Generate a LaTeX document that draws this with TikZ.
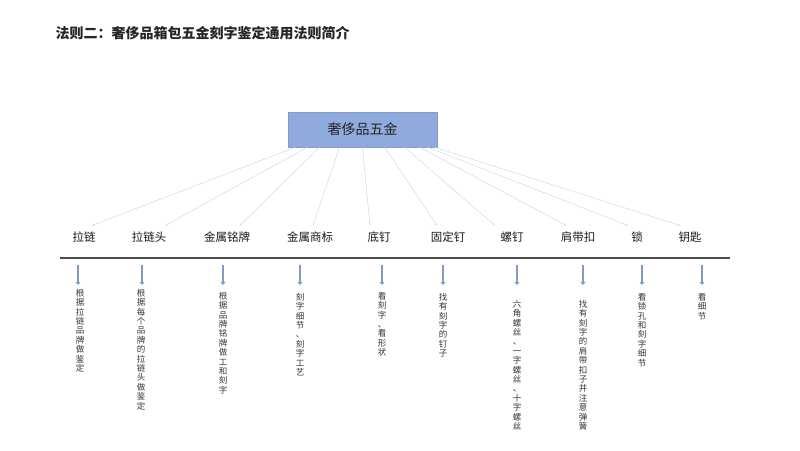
\documentclass[tikz,border=0pt]{standalone}
\usepackage{fontspec}
\setmainfont{Noto Sans CJK SC}
\usetikzlibrary{positioning,arrows.meta}
\definecolor{hubblue}{HTML}{8FAADC}
\definecolor{arrowblue}{HTML}{7F9CC9}
\definecolor{spoke}{HTML}{C9DCE6}

\begin{document}
\begin{tikzpicture}[x=1pt,y=-1pt,
        hub/.style={fill=hubblue,draw=hubblue!92!black,minimum width=149pt,minimum height=35pt,
            font=\fontsize{14}{16}\selectfont,text=black!85},
        part/.style={font=\fontsize{11.5}{13}\selectfont,text=black!90,inner sep=1pt},
        spokeline/.style={draw=spoke,line width=0.5pt,-{Stealth[length=2.5pt,width=2pt]}},
        down/.style={draw=arrowblue,line width=2pt,-{Triangle[length=3pt,width=5pt]}},
        rule/.style={draw=black!70,line width=1.6pt},
        note/.style={anchor=north,align=center,inner sep=0pt,
            font=\fontsize{8.5}{9.4}\selectfont,text=black!80}]
        \useasboundingbox (0,0) rectangle (800,450);

        \node[anchor=west,font=\bfseries\fontsize{14}{16}\selectfont,text=black!85] (title) at (52,33)
            {法则二：奢侈品箱包五金刻字鉴定通用法则简介};
        \node[hub] (hub) at (362.5,129.5) {奢侈品五金};

        \node[part] (zip)    at (84,237)  {拉链};
        \node[part] (puller) at (149,237) {拉链头};
        \node[part] (plate)  at (227,237) {金属铭牌};
        \node[part] (logo)   at (310,237) {金属商标};
        \node[part] (foot)   at (379,237) {底钉};
        \node[part] (rivet)  at (448,237) {固定钉};
        \node[part] (screw)  at (512,237) {螺钉};
        \node[part] (buckle) at (578,237) {肩带扣};
        \node[part] (lock)   at (637,237) {锁};
        \node[part] (key)    at (690,237) {钥匙};

        \path
        ([xshift=-67pt]hub.south) edge[spokeline] ([xshift=8pt,yshift=5pt]zip.north)
        ([xshift=-55pt]hub.south) edge[spokeline] ([xshift=16pt,yshift=5pt]puller.north)
        ([xshift=-43pt]hub.south) edge[spokeline] ([xshift=13pt,yshift=5pt]plate.north)
        ([xshift=-23pt]hub.south) edge[spokeline] ([xshift=3pt,yshift=5pt]logo.north)
        ([xshift=0pt]hub.south)   edge[spokeline] ([xshift=-9pt,yshift=5pt]foot.north)
        ([xshift=22pt]hub.south)  edge[spokeline] ([xshift=-11pt,yshift=5pt]rivet.north)
        ([xshift=42pt]hub.south)  edge[spokeline] ([xshift=-17pt,yshift=5pt]screw.north)
        ([xshift=57pt]hub.south)  edge[spokeline] ([xshift=-12pt,yshift=5pt]buckle.north)
        ([xshift=65pt]hub.south)  edge[spokeline] ([xshift=-9pt,yshift=5pt]lock.north)
        ([xshift=72pt]hub.south)  edge[spokeline] ([xshift=-10pt,yshift=5pt]key.north);

        % base line under the parts
        \coordinate (ruleL) at (60,258);
        \coordinate (ruleR) at (730,258);
        \draw[rule] (ruleL) -- (ruleR);

        \node[note] (n1)  at (80,289)  {根\\据\\拉\\链\\品\\牌\\做\\鉴\\定};
        \node[note] (n2)  at (141,289) {根\\据\\每\\个\\品\\牌\\的\\拉\\链\\头\\做\\鉴\\定};
        \node[note] (n3)  at (223,292) {根\\据\\品\\牌\\铭\\牌\\做\\工\\和\\刻\\字};
        \node[note] (n4)  at (300,293) {刻\\字\\细\\节\\、\\刻\\字\\工\\艺};
        \node[note] (n5)  at (382,292) {看\\刻\\字\\、\\看\\形\\状};
        \node[note] (n6)  at (443,293) {找\\有\\刻\\字\\的\\钉\\子};
        \node[note] (n7)  at (517,300) {六\\角\\螺\\丝\\、\\一\\字\\螺\\丝\\、\\十\\字\\螺\\丝};
        \node[note] (n8)  at (583,300) {找\\有\\刻\\字\\的\\肩\\带\\扣\\子\\并\\注\\意\\弹\\簧};
        \node[note] (n9)  at (642,293) {看\\锁\\孔\\和\\刻\\字\\细\\节};
        \node[note] (n10) at (702,293) {看\\细\\节};

        \coordinate (a1) at (78,265);
        \coordinate (a2) at (142,265);
        \coordinate (a3) at (223,265);
        \coordinate (a4) at (300,265);
        \coordinate (a5) at (382,265);
        \coordinate (a6) at (443,265);
        \coordinate (a7) at (517,265);
        \coordinate (a8) at (583,265);
        \coordinate (a9) at (642,265);
        \coordinate (a10) at (702,265);
        \draw[down] (a1) -- ++(0,20);
        \draw[down] (a2) -- ++(0,20);
        \draw[down] (a3) -- ++(0,20);
        \draw[down] (a4) -- ++(0,20);
        \draw[down] (a5) -- ++(0,20);
        \draw[down] (a6) -- ++(0,20);
        \draw[down] (a7) -- ++(0,20);
        \draw[down] (a8) -- ++(0,20);
        \draw[down] (a9) -- ++(0,20);
        \draw[down] (a10) -- ++(0,20);
\end{tikzpicture}
\end{document}
